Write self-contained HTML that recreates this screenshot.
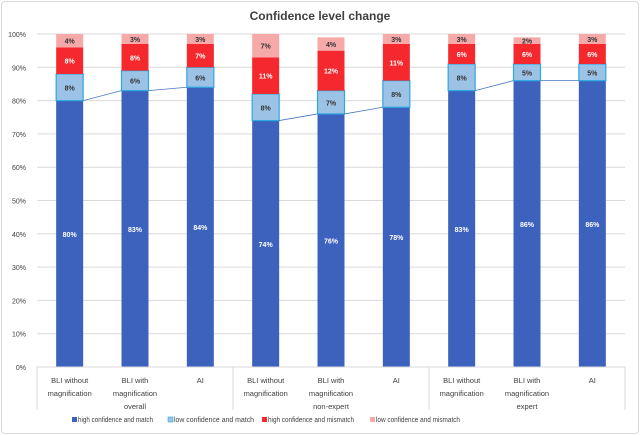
<!DOCTYPE html>
<html><head><meta charset="utf-8"><style>
body{margin:0;background:#fff;font-family:"Liberation Sans",sans-serif}
#wrap{position:absolute;left:1px;top:1px;width:636px;height:431px;border:1px solid #d9d9d9;border-radius:4px;background:#fff}
</style></head><body>
<div id="wrap">
<svg id="chart" width="640" height="435" style="position:absolute;left:-2px;top:-2px"></svg>
</div>
<script>
const categories=["BLI without|magnification","BLI with|magnification","AI","BLI without|magnification","BLI with|magnification","AI","BLI without|magnification","BLI with|magnification","AI"];
const groups=["overall","non-expert","expert"];
const highMatch=[80,83,84,74,76,78,83,86,86];
const lowMatch=[8,6,6,8,7,8,8,5,5];
const highMismatch=[8,8,7,11,12,11,6,6,6];
const lowMismatch=[4,3,3,7,4,3,3,2,3];
const yTicks=[0,10,20,30,40,50,60,70,80,90,100];
const seriesNames=["high confidence and match","low confidence and match","high confidence and mismatch","low confidence and mismatch"];

const NS="http://www.w3.org/2000/svg";
const svg=document.getElementById('chart');
const X0=37,X1=625,Y0=367,Y100=34;
const catW=(X1-X0)/categories.length, barW=27;
const y=v=>Y0-(Y0-Y100)*v/100;
const cx=i=>X0+catW*(i+0.5);
function el(t,a,txt){const e=document.createElementNS(NS,t);for(const k in a)e.setAttribute(k,a[k]);if(txt!=null)e.textContent=txt;svg.appendChild(e);return e;}

let t=el('text',{x:320,y:20,'text-anchor':'middle','font-size':12,'font-weight':'bold',fill:'#404040'},'Confidence level change');



yTicks.forEach(v=>{
 const g=el('line',{x1:X0,x2:X1,y1:y(v),y2:y(v),stroke:'#d9d9d9','stroke-width':1});
 
 
 const l=el('text',{x:X0-11,y:y(v)+3,'text-anchor':'end','font-size':7,fill:'#404040'},v+'%');
 
 
});

const series=[highMatch,lowMatch,highMismatch,lowMismatch];
const fills=['#3d62bd','#9cc2e5','#f5282d','#f6a9a9'];
const strokes=['none','#2fa8e0','none','none'];
const txtCol=['#fff','#333','#fff','#333'];
categories.forEach((c,i)=>{
 let base=0;
 series.forEach((s,k)=>{
  const v=s[i];
  const r=el('rect',{x:cx(i)-barW/2,y:y(base+v),width:barW,height:y(base)-y(base+v),fill:fills[k],stroke:strokes[k],'stroke-width':1.2});
  
  
  const l=el('text',{x:cx(i),y:(y(base)+y(base+v))/2+3,'text-anchor':'middle','font-size':7,'font-weight':'bold',fill:txtCol[k]},v+'%');
  
  
  base+=v;
 });
 const lines=c.split('|');
 lines.forEach((ln,j)=>{
  const tl=el('text',{x:cx(i),y:383+j*13,'text-anchor':'middle','font-size':7.5,fill:'#404040'},ln);
  
  
 });
});
for(let i=0;i<categories.length-1;i++){
 if(Math.floor(i/3)!==Math.floor((i+1)/3))continue;
 const ln=el('line',{x1:cx(i)+barW/2,y1:y(highMatch[i]),x2:cx(i+1)-barW/2,y2:y(highMatch[i+1]),stroke:'#4a78c0','stroke-width':0.8});
 
 
}
el('line',{x1:X0,x2:X1,y1:Y0,y2:Y0,stroke:'#d9d9d9'});
for(let g=0;g<=groups.length;g++){
 const sx=X0+catW*3*g;
 const s=el('line',{x1:sx,x2:sx,y1:Y0,y2:410,stroke:'#d9d9d9'});
 
 
 if(g<groups.length){
  const gl=el('text',{x:sx+catW*1.5,y:409,'text-anchor':'middle','font-size':7.5,fill:'#404040'},groups[g]);
  
  
 }
}
const legX=[72,168,262,370];
const legW=[75,80,86,84];
seriesNames.forEach((n,k)=>{
 const r=el('rect',{x:legX[k],y:417,width:5,height:5,fill:fills[k],stroke:strokes[k],'stroke-width':0.6});
 
 
 const tx=el('text',{x:legX[k]+6,y:422,'font-size':7,fill:'#404040',textLength:legW[k],lengthAdjust:'spacingAndGlyphs'},n);
 
 
});
</script>
</body></html>
